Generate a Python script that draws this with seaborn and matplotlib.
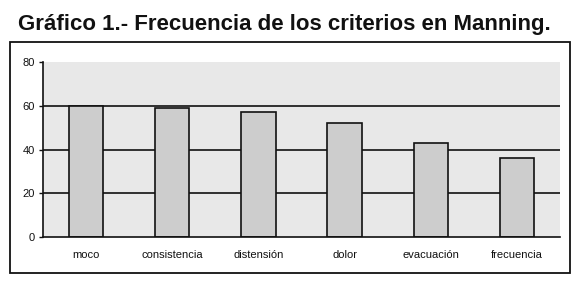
"""
Gráfico 1 - frecuencia de los criterios en Manning (bar chart).
"""

import numpy as np
import pandas as pd
import matplotlib.pyplot as plt
import matplotlib.patches as mpatches
import seaborn as sns

# ── Data ─────────────────────────────────────────────────────────────────────
criterios = ["moco", "consistencia", "distensión", "dolor", "evacuación", "frecuencia"]
frecuencia = [60, 59, 57, 52, 43, 36]
y_ticks = [0, 20, 40, 60, 80]

df = pd.DataFrame({"criterio": criterios, "frecuencia": frecuencia})

# fmt: off
BG_COLOR  = "#e8e8e8"
BAR_COLOR = "#cdcdcd"
INK       = "#111111"
# fmt: on

sns.set_style("white")
plt.rcParams["font.family"] = ["Liberation Sans", "DejaVu Sans"]

fig = plt.figure(figsize=(5.8, 2.82), dpi=100)
fig.patch.set_facecolor("white")

# outer frame around the chart
frame = mpatches.Rectangle(
    (10 / 580, 9 / 282), 560 / 580, 231 / 282,
    transform=fig.transFigure, fill=False, edgecolor=INK, linewidth=1.3,
)
fig.patches.append(frame)

fig.text(18 / 580, 1 - 30 / 282, "Gráfico 1.- Frecuencia de los criterios en Manning.",
         fontsize=16, fontweight="bold", color=INK, ha="left", va="baseline")

ax = fig.add_axes([43 / 580, 45 / 282, 517 / 580, 175 / 282])
ax.set_facecolor(BG_COLOR)

# horizontal grid lines (not at 0 / 80)
for y in y_ticks[1:-1]:
    ax.axhline(y, color=INK, linewidth=1.2, zorder=0.5)

sns.barplot(data=df, x="criterio", y="frecuencia", color=BAR_COLOR,
            edgecolor=INK, linewidth=1.2, width=0.4, saturation=1, ax=ax, zorder=2)

ax.set_xlim(-0.5, len(criterios) - 0.5)
ax.set_ylim(0, 80)
ax.set_yticks(y_ticks)
ax.set_xlabel("")
ax.set_ylabel("")

ax.tick_params(axis="x", which="major", length=0, labelsize=8, pad=9, colors=INK)
ax.set_xticks(np.arange(-0.5, len(criterios)), minor=True)
ax.tick_params(axis="x", which="minor", length=3, width=1, direction="out", color=INK)
ax.tick_params(axis="y", length=3, width=1, direction="out", labelsize=8, pad=3,
               colors=INK, left=True)

for side in ["top", "right"]:
    ax.spines[side].set_visible(False)
for side in ["left", "bottom"]:
    ax.spines[side].set_color(INK)
    ax.spines[side].set_linewidth(1.2)

plt.savefig("out.png", dpi=100, facecolor="white")
plt.close()
print("Saved: out.png")
